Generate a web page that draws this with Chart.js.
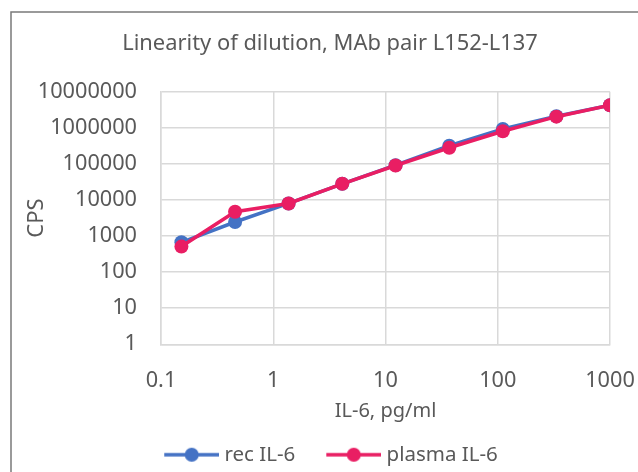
<!DOCTYPE html>
<html lang="en">
<head>
  <meta charset="UTF-8">
  <title>Linearity of dilution</title>
  <script src="https://cdn.jsdelivr.net/npm/chart.js"></script>
  <style>
    body {
      margin: 0;
      background-color: #fff;
    }
    #chart-container {
      width: 638px;
      height: 472px;
    }
  </style>
</head>
<body>
  <div id="chart-container">
    <canvas id="myChart" width="638" height="472"></canvas>
  </div>

  <script>
    // IL-6 concentrations (1:3 dilution series), pg/ml
    const concentrations = [0.152, 0.457, 1.37, 4.12, 12.3, 37.0, 111, 333, 1000];
    // counts per second
    const recIL6 = [670, 2450, 8000, 28000, 92000, 320000, 930000, 2080000, 4200000];
    const plasmaIL6 = [510, 4700, 8000, 28000, 90000, 280000, 800000, 2030000, 4200000];
    const seriesNames = ['rec IL-6', 'plasma IL-6'];
    const seriesColors = ['#4472C4', '#E91E63'];
    const xTicks = [0.1, 1, 10, 100, 1000];
    const yTicks = [1, 10, 100, 1000, 10000, 100000, 1000000, 10000000];

    const FONT = '"Noto Sans", sans-serif';
    const TEXT = '#595959';
    const GRID = '#d9d9d9';
    const ICON_W = 81;

    // little line + dot picture for the legend entries
    function legendIcon(color) {
      const c = document.createElement('canvas');
      c.width = ICON_W + 10;
      c.height = 16;
      const g = c.getContext('2d');
      g.strokeStyle = color;
      g.lineWidth = 3.5;
      g.beginPath();
      g.moveTo(c.width - 55, 8);
      g.lineTo(c.width, 8);
      g.stroke();
      g.fillStyle = color;
      g.beginPath();
      g.arc(c.width - 27.5, 8, 7, 0, Math.PI * 2);
      g.fill();
      return c;
    }

    // outer frame of the chart object (its right/bottom edges fall outside the window)
    // the original frame is wider than the window, so title sits a bit right of centre
    const frame = {
      id: 'frame',
      afterLayout(chart) {
        chart.titleBlock.left += 11;
        chart.titleBlock.right += 11;
        chart.legend.left -= 3.5;
        chart.legend.right -= 3.5;
      },
      beforeDraw(chart) {
        const ctx = chart.ctx;
        ctx.save();
        ctx.strokeStyle = '#7a7a7a';
        ctx.lineWidth = 1.5;
        ctx.strokeRect(11, 12, 800, 600);
        ctx.restore();
      }
    };

    const toPoints = (ys) => concentrations.map((x, i) => ({ x: x, y: ys[i] }));

    const ctx = document.getElementById('myChart').getContext('2d');
    const chart = new Chart(ctx, {
      type: 'line',
      data: {
        datasets: [
          {
            label: seriesNames[0],
            data: toPoints(recIL6),
            borderColor: seriesColors[0],
            backgroundColor: seriesColors[0],
            pointBackgroundColor: seriesColors[0],
            pointBorderColor: seriesColors[0],
            borderWidth: 3.5,
            pointRadius: 7,
            pointBorderWidth: 0,
            order: 1
          },
          {
            label: seriesNames[1],
            data: toPoints(plasmaIL6),
            borderColor: seriesColors[1],
            backgroundColor: seriesColors[1],
            pointBackgroundColor: seriesColors[1],
            pointBorderColor: seriesColors[1],
            borderWidth: 3.5,
            pointRadius: 7,
            pointBorderWidth: 0,
            order: 0
          }
        ]
      },
      options: {
        responsive: false,
        animation: false,
        devicePixelRatio: 1,
        layout: {
          padding: { top: 0, left: 0, right: 0, bottom: -3 }
        },
        plugins: {
          title: {
            display: true,
            text: 'Linearity of dilution, MAb pair L152-L137',
            color: TEXT,
            font: { family: FONT, size: 21.9, weight: 'normal' },
            padding: { top: 30.5, bottom: 34.9 }
          },
          legend: {
            position: 'bottom',
            labels: {
              color: TEXT,
              font: { family: FONT, size: 20.5 },
              usePointStyle: true,
              pointStyleWidth: ICON_W,
              padding: 0,
              generateLabels(chart) {
                return chart.data.datasets.map((ds, i) => ({
                  text: ds.label,
                  fontColor: TEXT,
                  pointStyle: legendIcon(ds.borderColor),
                  strokeStyle: ds.borderColor,
                  fillStyle: ds.borderColor,
                  lineWidth: 0,
                  hidden: false,
                  datasetIndex: i
                }));
              }
            }
          },
          tooltip: { enabled: false }
        },
        scales: {
          x: {
            type: 'logarithmic',
            min: 0.1,
            max: 1000,
            afterBuildTicks(scale) {
              scale.ticks = xTicks.map(v => ({ value: v }));
            },
            afterFit(scale) {
              scale.height = 100.2;
              scale.paddingLeft = 0;
              scale.paddingRight = 28;
            },
            ticks: {
              color: TEXT,
              font: { family: FONT, size: 21.7 },
              padding: 23.5,
              maxRotation: 0,
              callback: (v) => String(v)
            },
            grid: { color: GRID, lineWidth: 1.5, drawTicks: false },
            border: { color: GRID, width: 1.5 },
            title: {
              display: true,
              text: 'IL-6, pg/ml',
              color: TEXT,
              font: { family: FONT, size: 20 },
              padding: { top: 4, bottom: 21.4 }
            }
          },
          y: {
            type: 'logarithmic',
            min: 1,
            max: 10000000,
            afterBuildTicks(scale) {
              scale.ticks = yTicks.map(v => ({ value: v }));
            },
            afterFit(scale) {
              scale.width = 161;
            },
            ticks: {
              color: TEXT,
              font: { family: FONT, size: 21.7 },
              padding: 24,
              callback: (v) => String(v)
            },
            grid: { color: GRID, lineWidth: 1.5, drawTicks: false },
            border: { color: GRID, width: 1.5 },
            title: {
              display: true,
              text: 'CPS',
              color: TEXT,
              font: { family: FONT, size: 22 },
              padding: { top: 24, bottom: 0 }
            }
          }
        }
      },
      plugins: [frame]
    });
  </script>
</body>
</html>
